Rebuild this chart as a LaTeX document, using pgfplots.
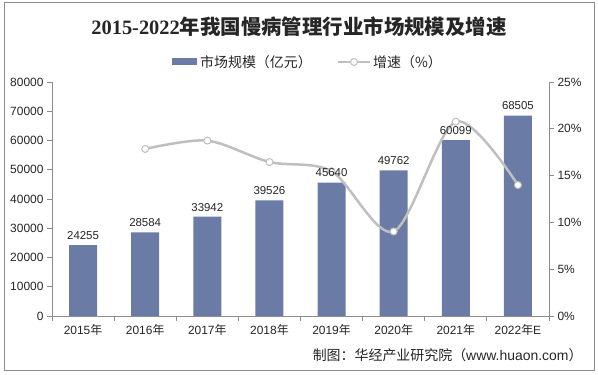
\documentclass[border=0pt]{standalone}
\usepackage{fontspec}
\setmainfont{Liberation Sans}
\newfontfamily\cjk{Noto Sans CJK SC}
\newfontfamily\titleserif{Liberation Serif}
\usepackage{pgfplots}
\pgfplotsset{compat=1.18}
\definecolor{barc}{HTML}{6A7CA5}
\definecolor{linec}{HTML}{BFBFBF}
\definecolor{axc}{HTML}{8C8C8C}
\definecolor{txt}{HTML}{262626}
\pgfplotsset{
  base/.style={
    at={(52bp,59bp)}, anchor=south west, scale only axis,
    width=497bp, height=234bp,
    xmin=-0.5, xmax=7.5,
    axis line style={draw=axc, line width=0.8bp},
    tick style={draw=axc, line width=0.8bp},
    tick align=outside,
    major tick length=5bp, minor tick length=5bp,
    ticklabel style={font=\fontsize{12}{14}\selectfont, text=txt},
    /pgf/number format/1000 sep={},
    /pgf/number format/assume math mode=true,
  }
}
\begin{document}
\begin{tikzpicture}
\fill[white] (0bp,0bp) rectangle (598bp,375bp);
\draw[color=axc, line width=1bp] (4bp,4bp) rectangle (594bp,372bp);
\node[font=\fontsize{20.5}{24}\selectfont\bfseries, text=txt] at (299bp,348bp) {\titleserif 2015-2022\cjk 年我国慢病管理行业市场规模及增速};
% legend
\fill[barc] (172bp,309.5bp) rectangle (197bp,316.5bp);
\node[anchor=west, font=\fontsize{14}{16}\selectfont\cjk, text=txt, inner sep=1bp] at (199bp,313bp) {市场规模（亿元）};
\draw[linec, line width=2.5bp] (338bp,313bp) -- (370bp,313bp);
\filldraw[fill=white, draw=linec, line width=1bp] (354bp,313bp) circle (3.5bp);
\node[anchor=west, font=\fontsize{14}{16}\selectfont\cjk, text=txt, inner sep=1bp] at (372bp,313bp) {增速（\%）};
% source
\node[anchor=east, font=\fontsize{14}{16}\selectfont, text=txt] at (586bp,20bp) {{\cjk 制图：华经产业研究院（}www.huaon.com{\cjk ）}};

\pgfplotstableread{
x y
0 24255
1 28584
2 33942
3 39526
4 45640
5 49762
6 60099
7 68505
}\market
\pgfplotstableread{
x g
1 17.85
2 18.74
3 16.45
4 15.47
5 9.03
6 20.77
7 13.99
}\growth

\begin{axis}[base,
  ymin=0, ymax=80000,
  axis x line*=bottom, axis y line*=left,
  ytick={0,10000,...,80000},
  scaled y ticks=false,
  xtick={0,...,7},
  xticklabels={2015{\cjk 年},2016{\cjk 年},2017{\cjk 年},2018{\cjk 年},2019{\cjk 年},2020{\cjk 年},2021{\cjk 年},2022{\cjk 年}E},
  minor xtick={-0.5,0.5,...,7.5},
  major x tick style={draw=none},
  ybar, bar width=28bp,
]
\addplot[fill=barc, draw=none] table[x=x,y=y] {\market};
\end{axis}
\begin{axis}[base,
  ymin=0, ymax=25,
  axis x line=none, axis y line*=right,
  ytick={0,5,...,25},
  yticklabel={\pgfmathprintnumber{\tick}\%},
]
\addplot[smooth, color=linec, line width=2.5bp, mark=*, mark size=3.5bp, mark options={fill=white, draw=linec, line width=1bp}] table[x=x,y=g] {\growth};
\end{axis}
\begin{axis}[base,
  ymin=0, ymax=80000,
  axis lines=none,
  ybar, bar width=28bp,
  nodes near coords,
  every node near coord/.append style={font=\fontsize{11.5}{13}\selectfont, text=txt, yshift=2bp},
]
\addplot[draw=none, fill=none] table[x=x,y=y] {\market};
\end{axis}
\end{tikzpicture}
\end{document}
